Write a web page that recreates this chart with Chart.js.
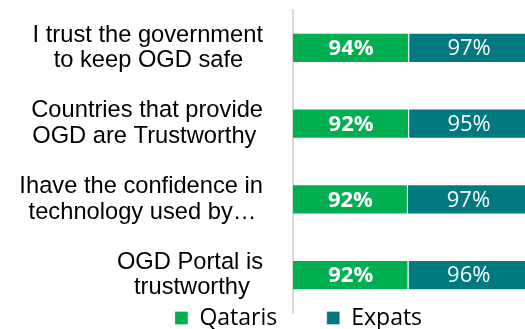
<!DOCTYPE html>
<html><head><meta charset="utf-8">
<script src="https://cdn.jsdelivr.net/npm/chart.js@4"></script>
<style>
html,body{margin:0;padding:0;background:#fff;overflow:hidden}
#wrap{position:relative;width:529px;height:329px}
</style></head><body>
<div id="wrap"><canvas id="grafico"></canvas></div>
<script>
const categorias=[["I trust the government","to keep OGD safe"],["Countries that provide","OGD are Trustworthy"],["Ihave the confidence in","technology used by…"],["OGD Portal is","trustworthy"]];
const series=["Qataris","Expats"];
const qataris=[94,92,92,92];
const expats=[97,95,97,96];
const cores=["#00b050","#007a80"];

// linhas centradas dentro do bloco alinhado a direita
const fonteEixo='23.7px "Liberation Sans"';
const medidor=document.createElement("canvas").getContext("2d");
medidor.font=fonteEixo;
function centrar(linhas){
let larg=linhas.map(l=>medidor.measureText(l).width);
let max=Math.max(...larg);
let esp=medidor.measureText(" ").width;
return linhas.map((l,i)=>l+" ".repeat(Math.round((max-larg[i])/2/esp)));
}

// barras 100% empilhadas
const brutos=[qataris,expats];
const pct=brutos.map(s=>s.map((v,i)=>v/(qataris[i]+expats[i])*100));

const rotulos={id:"rotulos",afterDatasetsDraw(c){
const ctx=c.ctx;
c.data.datasets.forEach((ds,d)=>{
c.getDatasetMeta(d).data.forEach((el,i)=>{
let p=el.getCenterPoint();
ctx.save();
ctx.fillStyle="#fff";
ctx.font=(d==0?"bold ":"")+'22px "Open Sans"';
ctx.textAlign="center";ctx.textBaseline="middle";
ctx.fillText(brutos[d][i]+"%",p.x,p.y+1);
ctx.restore();
});
});
}};

// legenda: espacamento largo entre itens sem roubar altura do grafico
const posLegenda={id:"posLegenda",afterLayout(c){
let l=c.legend;
l.left=68;l.top=257;l.bottom=329;
l.width=l.right-l.left;l.height=l.bottom-l.top;
}};

new Chart(document.getElementById("grafico"),{
type:"bar",
data:{labels:categorias,datasets:series.map((s,d)=>({label:s,data:pct[d],backgroundColor:cores[d],borderColor:"rgba(255,255,255,0.3)",borderWidth:1,barPercentage:0.4,categoryPercentage:1}))},
options:{
responsive:true,maintainAspectRatio:false,animation:false,indexAxis:"y",
layout:{padding:{left:0,top:10,right:0,bottom:0}},
scales:{
x:{stacked:true,min:0,max:100,display:false},
y:{stacked:true,grid:{display:false,drawTicks:false},border:{color:"#d9d9d9",width:2},
ticks:{padding:30,color:"#000",font:{family:'"Liberation Sans", Arial',size:23.7,lineHeight:1.08},callback:(v,i)=>centrar(categorias[i])},
afterFit(s){s.width=293;s.paddingTop=0;s.paddingBottom=0;}}
},
plugins:{
legend:{position:"bottom",maxHeight:16,labels:{boxWidth:13,boxHeight:13,padding:49.5,color:"#000",font:{family:'"Open Sans"',size:23}}},
tooltip:{enabled:false}
}
},
plugins:[rotulos,posLegenda]
});
</script>
</body></html>
